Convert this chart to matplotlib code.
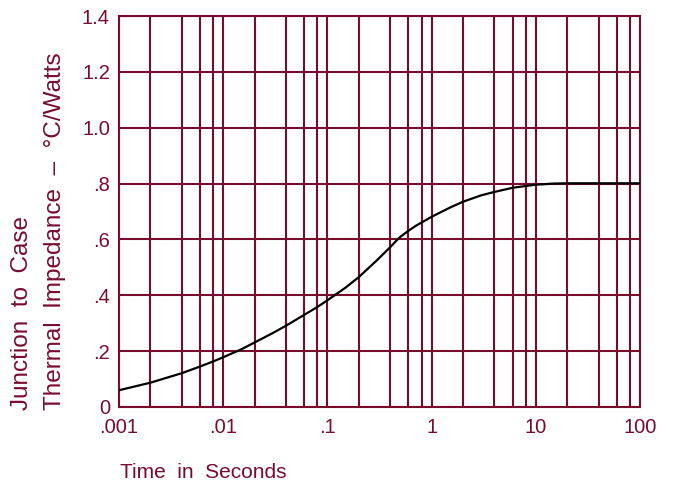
import numpy as np
import matplotlib
matplotlib.use("Agg")
import matplotlib.pyplot as plt

MAROON = "#780c2c"
plt.rcParams["font.family"] = ["Liberation Sans", "DejaVu Sans"]

# curve
time_s = [0.001, 0.002, 0.004, 0.006, 0.008, 0.01, 0.015, 0.02, 0.03, 0.04, 0.06,
          0.08, 0.1, 0.15, 0.2, 0.3, 0.4, 0.46, 0.5, 0.6, 0.7, 1, 1.5, 2, 3, 4, 6,
          10, 15, 20, 30, 100]
zth = [0.060, 0.087, 0.121, 0.145, 0.163, 0.178, 0.207, 0.231, 0.265, 0.291, 0.330,
       0.358, 0.382, 0.428, 0.465, 0.526, 0.572, 0.596, 0.609, 0.631, 0.648, 0.681,
       0.714, 0.735, 0.758, 0.770, 0.785, 0.796, 0.800, 0.801, 0.801, 0.801]

x_ticks = [0.001, 0.01, 0.1, 1, 10, 100]
x_labels = [".001", ".01", ".1", "1", "10", "100"]
y_ticks = [0, 0.2, 0.4, 0.6, 0.8, 1.0, 1.2, 1.4]
y_labels = ["0", ".2", ".4", ".6", ".8", "1.0", "1.2", "1.4"]

fig = plt.figure(figsize=(6.73, 4.87), dpi=100)
ax = fig.add_axes([119 / 673, 80 / 487, 521 / 673, 391 / 487])

# vertical grid at 1, 2, 4, 6, 8 per decade
for d in [0.001, 0.01, 0.1, 1, 10]:
    for m in [1, 2, 4, 6, 8]:
        ax.axvline(d * m, color=MAROON, lw=1.5, zorder=1)
for y in y_ticks:
    ax.axhline(y, color=MAROON, lw=1.5, zorder=1)

ax.plot(time_s, zth, color="black", lw=1.6, zorder=3)

ax.set_xscale("log")
ax.set_xlim(0.001, 100)
ax.set_ylim(0, 1.4)
ax.set_xticks(x_ticks)
ax.set_xticklabels(x_labels)
ax.set_xticks([], minor=True)
ax.set_yticks(y_ticks)
ax.set_yticklabels(y_labels)
ax.tick_params(length=0, colors=MAROON, labelsize=14.5)
ax.tick_params(axis="y", pad=6.5)
ax.tick_params(axis="x", pad=8)
for s in ax.spines.values():
    s.set_color(MAROON)
    s.set_linewidth(1.5)

fig.text(120 / 673, 1 - 473 / 487, "Time  in  Seconds", color=MAROON, fontsize=15,
         ha="left", va="center")
fig.text(22 / 673, 1 - 410 / 487, "Junction  to  Case", color=MAROON, fontsize=17.5,
         rotation=90, ha="center", va="bottom")
fig.text(55 / 673, 1 - 410 / 487, "Thermal  Impedance  \u2013  \u00b0C/Watts", color=MAROON,
         fontsize=17.5, rotation=90, ha="center", va="bottom")

fig.savefig("out.png", dpi=100)
